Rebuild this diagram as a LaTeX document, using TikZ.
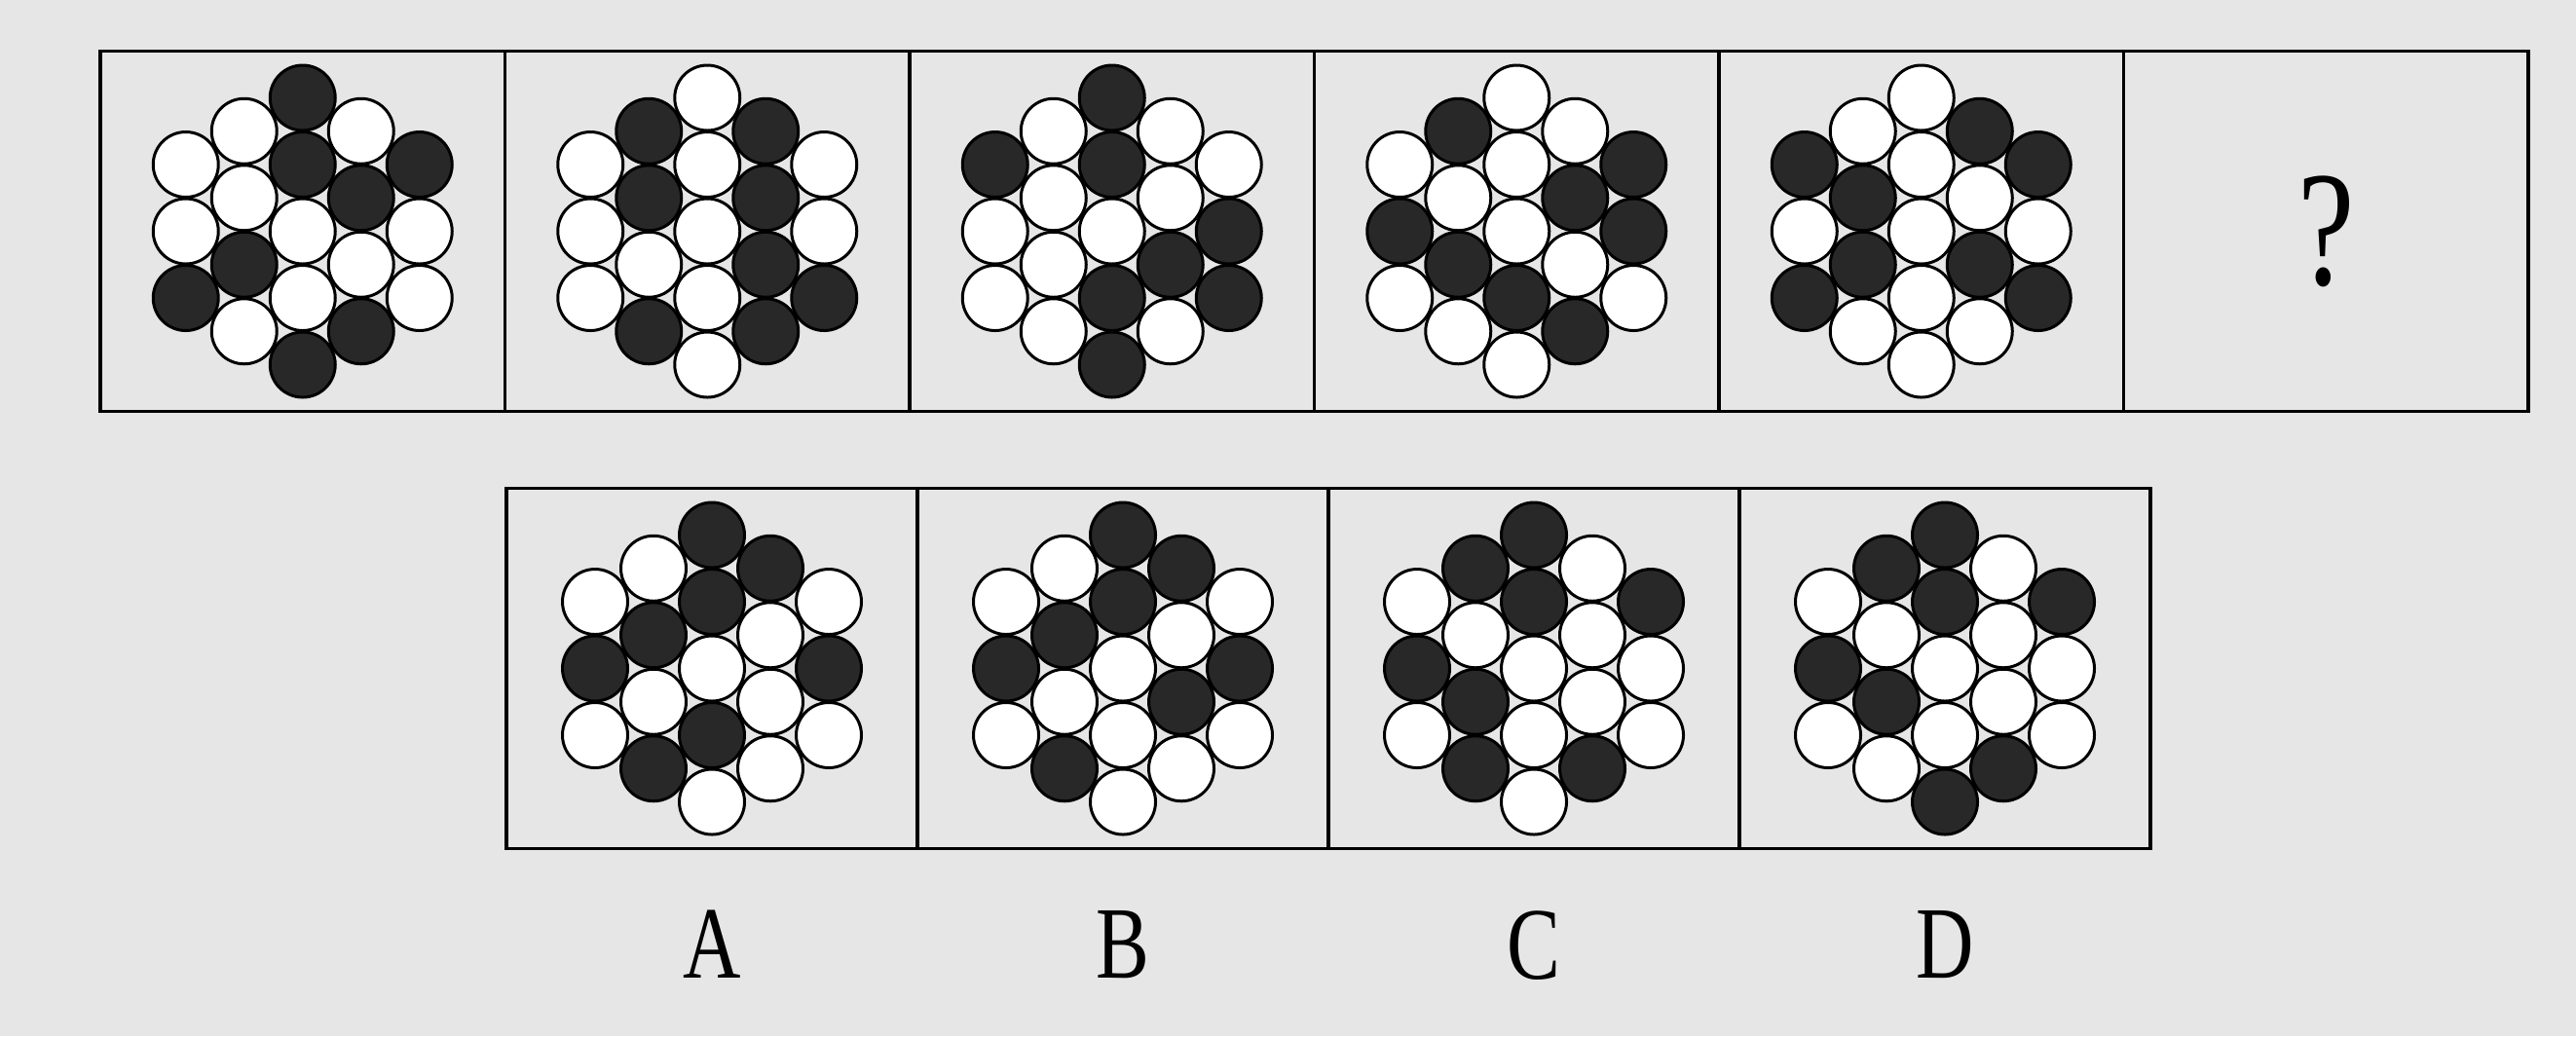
\documentclass[tikz,border=0pt]{standalone}
\usepackage{fontspec}
\setmainfont{Liberation Serif}
\usetikzlibrary{positioning}
\definecolor{paper}{HTML}{E6E6E6}
\definecolor{inkdark}{HTML}{282828}
\tikzset{
	cellbox/.style={draw, line width=1pt, minimum width=#1, minimum height=3.7cm, inner sep=0pt, outer sep=0pt},
	cellbox/.default=4.155cm
}
\tikzset{
	dotw/.style={draw, line width=0.85pt, fill=white},
	dotb/.style={draw, line width=0.85pt, fill=inkdark}
}
\tikzset{
	optlabel/.style={inner sep=0pt, font=\fontsize{30}{30}\selectfont}
}
\newcommand{\condtext}[1]{\scalebox{0.78}[1]{#1}}
% 19 dots in a hexagon, columns from left to right, each from top to bottom
\newcommand{\hexdots}[2]{%
  \foreach \col [count=\c from -2] in {#2} {
    \pgfmathtruncatemacro{\n}{5-abs(\c)}
    \foreach \f [count=\k from 0] in \col
      \draw[dot\f] ([shift={(\c*0.6, {(0.5*(\n-1)-\k)*0.685})}]#1.center) circle (0.335);
  }
}

\begin{document}
\begin{tikzpicture}
  \fill[paper] (0,0) rectangle (26.45,-10.64);
  \useasboundingbox (0,0) rectangle (26.45,-10.64);
  % question row
  \node[cellbox] (q1) at (3.1075,-2.375) {};
  \node[cellbox, right=0mm of q1] (q2) {};
  \node[cellbox, right=0mm of q2] (q3) {};
  \node[cellbox, right=0mm of q3] (q4) {};
  \node[cellbox, right=0mm of q4] (q5) {};
  \node[cellbox, right=0mm of q5] (q6) {};
  \node[optlabel, font=\fontsize{48}{48}\selectfont] (qm) at (q6.center) {\condtext{?}};
  \hexdots{q1}{{w,w,b},{w,w,b,w},{b,b,w,w,b},{w,b,w,b},{b,w,w}}
  \hexdots{q2}{{w,w,w},{b,b,w,b},{w,w,w,w,w},{b,b,b,b},{w,w,b}}
  \hexdots{q3}{{b,w,w},{w,w,w,w},{b,b,w,b,b},{w,w,b,w},{w,b,b}}
  \hexdots{q4}{{w,b,w},{b,w,b,w},{w,w,w,b,w},{w,b,w,b},{b,b,w}}
  \hexdots{q5}{{b,w,b},{w,b,b,w},{w,w,w,w,w},{b,w,b,w},{b,w,b}}
  % answer row
  \node[cellbox=4.22cm] (optA) at (7.31,-6.865) {};
  \node[cellbox=4.22cm, right=0mm of optA] (optB) {};
  \node[cellbox=4.22cm, right=0mm of optB] (optC) {};
  \node[cellbox=4.22cm, right=0mm of optC] (optD) {};
  \hexdots{optA}{{w,b,w},{w,b,w,b},{b,b,w,b,w},{b,w,w,w},{w,b,w}}
  \hexdots{optB}{{w,b,w},{w,b,w,b},{b,b,w,w,w},{b,w,b,w},{w,b,w}}
  \hexdots{optC}{{w,b,w},{b,w,b,b},{b,b,w,w,w},{w,w,w,b},{b,w,w}}
  \hexdots{optD}{{w,b,w},{b,w,b,w},{b,b,w,w,b},{w,w,w,b},{b,w,w}}
  \node[optlabel, below=6.3mm of optA] (labA) {\condtext{A}};
  \node[optlabel, below=6.3mm of optB] (labB) {\condtext{B}};
  \node[optlabel, below=6.3mm of optC] (labC) {\condtext{C}};
  \node[optlabel, below=6.3mm of optD] (labD) {\condtext{D}};
\end{tikzpicture}
\end{document}
